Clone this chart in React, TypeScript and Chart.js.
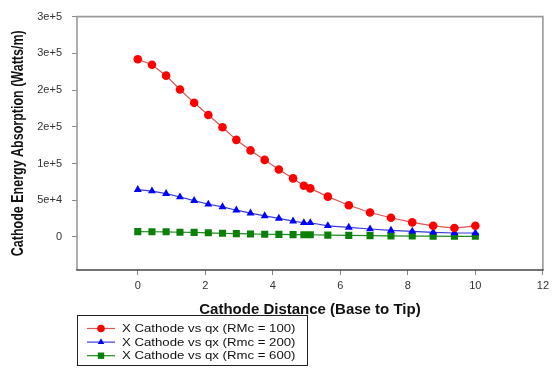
import { useEffect, useRef } from 'react';
import { Chart, registerables } from 'chart.js';

Chart.register(...registerables);

const xDistance = [0, 0.42, 0.84, 1.25, 1.67, 2.09, 2.51, 2.92, 3.34, 3.76, 4.18, 4.6, 4.92, 5.11, 5.63, 6.25, 6.88, 7.5, 8.13, 8.75, 9.38, 10];
const qxRmc100 = [241900, 234400, 219600, 200700, 182600, 166000, 149400, 132200, 117800, 104900, 91800, 79700, 69800, 66100, 54900, 43200, 33300, 26100, 19800, 15200, 12100, 15200];
const qxRmc200 = [64400, 62500, 59000, 54400, 49500, 44500, 40900, 36400, 32400, 28700, 25200, 21600, 19300, 19300, 15200, 13100, 10800, 9000, 7700, 6300, 5400, 5400];
const qxRmc600 = [7200, 7100, 7000, 6400, 6200, 5600, 5000, 4500, 4100, 3700, 3500, 3200, 3100, 3000, 2500, 2100, 1800, 1500, 1200, 1000, 900, 900];

const seriesNames = ['X Cathode vs qx (RMc = 100)', 'X Cathode vs qx (Rmc = 200)', 'X Cathode vs qx (Rmc = 600)'];
const xTicks = [0, 2, 4, 6, 8, 10, 12];
const yTicks = [0, 50000, 100000, 150000, 200000, 250000, 300000];
const yTickLabels = ['0', '5e+4', '1e+5', '2e+5', '2e+5', '3e+5', '3e+5'];
const xTitle = 'Cathode Distance (Base to Tip)';
const yTitle = 'Cathode Energy Absorption (Watts/m)';

const FONT = 'Arial, "Liberation Sans", sans-serif';

function drawMarker(ctx: CanvasRenderingContext2D, style: string, x: number, y: number, r: number, color: string) {
  ctx.save();
  ctx.fillStyle = color;
  ctx.beginPath();
  if (style === 'circle') {
    ctx.arc(x, y, r, 0, Math.PI * 2);
  } else if (style === 'triangle') {
    ctx.moveTo(x, y - r);
    ctx.lineTo(x + r * 0.866, y + r * 0.5);
    ctx.lineTo(x - r * 0.866, y + r * 0.5);
    ctx.closePath();
  } else {
    const s = r * Math.SQRT1_2;
    ctx.rect(x - s, y - s, 2 * s, 2 * s);
  }
  ctx.fill();
  ctx.restore();
}

const decorPlugin = {
  id: 'decor',
  beforeDatasetsDraw(chart: any) {
    const { ctx, chartArea: a } = chart;
    ctx.save();
    ctx.lineWidth = 1.6;
    ctx.strokeStyle = '#9a9a9a';
    ctx.beginPath();
    ctx.moveTo(a.left, a.bottom);
    ctx.lineTo(a.left, a.top);
    ctx.lineTo(a.right, a.top);
    ctx.lineTo(a.right, a.bottom);
    ctx.stroke();
    ctx.strokeStyle = '#444444';
    ctx.beginPath();
    ctx.moveTo(a.left - 0.8, a.bottom);
    ctx.lineTo(a.right + 0.8, a.bottom);
    ctx.stroke();
    ctx.restore();
  },
  afterDraw(chart: any) {
    const { ctx, chartArea: a } = chart;
    ctx.save();
    // x title
    ctx.fillStyle = '#111';
    ctx.font = `bold 15px ${FONT}`;
    ctx.textAlign = 'center';
    ctx.textBaseline = 'alphabetic';
    ctx.fillText(xTitle, (a.left + a.right) / 2, 313.5);
    // y title
    ctx.save();
    ctx.translate(22.5, (a.top + a.bottom) / 2);
    ctx.rotate(-Math.PI / 2);
    ctx.scale(1, 1.3);
    ctx.font = `bold 12.5px ${FONT}`;
    ctx.textAlign = 'center';
    ctx.textBaseline = 'alphabetic';
    ctx.fillText(yTitle, 0, 0);
    ctx.restore();
    // legend
    ctx.lineWidth = 1;
    ctx.strokeStyle = '#222';
    ctx.strokeRect(77.5, 315.5, 230, 50);
    chart.data.datasets.forEach((ds: any, i: number) => {
      const y = 328.5 + i * 13.6;
      ctx.strokeStyle = ds.borderColor;
      ctx.lineWidth = 1.2;
      ctx.beginPath();
      ctx.moveTo(87, y);
      ctx.lineTo(115, y);
      ctx.stroke();
      drawMarker(ctx, ds.pointStyle, 101, y, ds.pointStyle === 'rect' ? 4.5 : 3.8, ds.pointBackgroundColor);
      ctx.save();
      ctx.translate(122, y);
      ctx.scale(1.2, 1);
      ctx.font = `11px ${FONT}`;
      ctx.fillStyle = '#111';
      ctx.textAlign = 'left';
      ctx.textBaseline = 'middle';
      ctx.fillText(ds.label, 0, 0.5);
      ctx.restore();
    });
    ctx.restore();
  },
};

export default function App() {
  const ref = useRef<HTMLCanvasElement | null>(null);
  useEffect(() => {
    document.body.style.margin = '0';
    if (!ref.current) return;
    const mk = (vals: number[]) => vals.map((v, i) => ({ x: xDistance[i], y: v }));
    const chart = new Chart(ref.current, {
      type: 'line',
      data: {
        datasets: [
          {
            label: seriesNames[0],
            data: mk(qxRmc100),
            borderColor: '#dd5555',
            borderWidth: 1.2,
            pointStyle: 'circle',
            pointRadius: 4.3,
            pointBackgroundColor: '#ff0000',
            pointBorderColor: '#ff0000',
            pointBorderWidth: 0,
          },
          {
            label: seriesNames[1],
            data: mk(qxRmc200),
            borderColor: '#3a3ad8',
            borderWidth: 1.2,
            pointStyle: 'triangle',
            pointRadius: 4.6,
            pointBackgroundColor: '#0000ff',
            pointBorderColor: '#0000ff',
            pointBorderWidth: 0,
          },
          {
            label: seriesNames[2],
            data: mk(qxRmc600),
            borderColor: '#1f8a1f',
            borderWidth: 1.2,
            pointStyle: 'rect',
            pointRadius: 5,
            pointBackgroundColor: '#0a800a',
            pointBorderColor: '#0a800a',
            pointBorderWidth: 0,
          },
        ],
      },
      options: {
        animation: false,
        responsive: false,
        events: [],
        layout: { padding: { top: 15, right: 6, left: 0, bottom: 0 } },
        plugins: { legend: { display: false }, tooltip: { enabled: false } },
        elements: { line: { tension: 0 } },
        scales: {
          x: {
            type: 'linear',
            min: -1.8,
            max: 12,
            afterBuildTicks: (axis: any) => {
              axis.ticks = xTicks.map((v) => ({ value: v }));
            },
            afterFit: (axis: any) => {
              axis.height = 99;
            },
            grid: { drawOnChartArea: false, drawTicks: true, tickLength: 5, color: '#888', lineWidth: 1 },
            border: { display: false },
            ticks: {
              autoSkip: false,
              maxRotation: 0,
              padding: 4,
              color: '#333',
              font: { family: FONT, size: 11 },
              callback: (v: any) => String(v),
            },
          },
          y: {
            type: 'linear',
            min: -45000,
            max: 300000,
            afterBuildTicks: (axis: any) => {
              axis.ticks = yTicks.map((v) => ({ value: v }));
            },
            afterFit: (axis: any) => {
              axis.width = 77;
            },
            grid: { drawOnChartArea: false, drawTicks: true, tickLength: 5, color: '#888', lineWidth: 1 },
            border: { display: false },
            ticks: {
              autoSkip: false,
              padding: 10,
              color: '#333',
              font: { family: FONT, size: 11 },
              callback: (v: any) => {
                const idx = yTicks.indexOf(Number(v));
                return idx >= 0 ? yTickLabels[idx] : '';
              },
            },
          },
        },
      },
      plugins: [decorPlugin],
    });
    return () => chart.destroy();
  }, []);
  return <canvas ref={ref} width={553} height={369} style={{ display: 'block' }} />;
}
